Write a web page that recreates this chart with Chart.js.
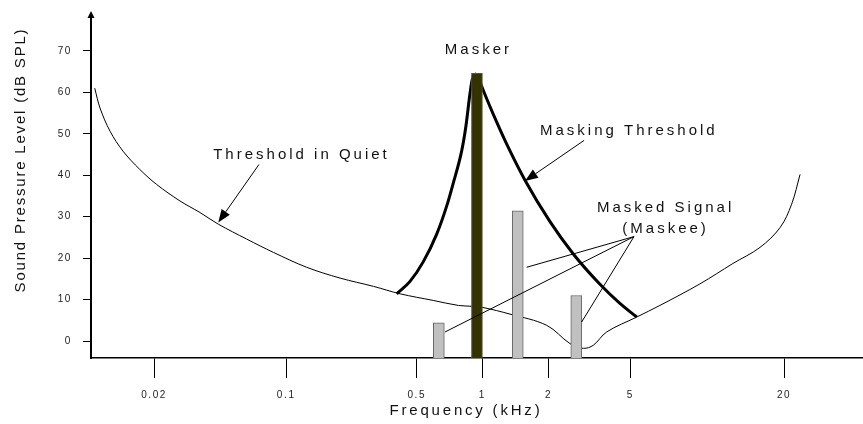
<!DOCTYPE html>
<html><head><meta charset="utf-8">
<script src="https://cdn.jsdelivr.net/npm/chart.js@4/dist/chart.umd.min.js"></script>
<style>html,body{margin:0;padding:0;background:#fff;}#wrap{width:863px;height:424px;position:relative;}</style>
</head><body><div id="wrap"><canvas id="c"></canvas></div>
<script>
// ---- axis definition (non-uniform frequency axis of the schematic) ----
const TICK_FREQS  = [0.02, 0.1, 0.5, 1, 2, 5, 20];
const TICK_LABELS = ['0.02', '0.1', '0.5', '1', '2', '5', '20'];
const AXIS_UNITS  = [64.1, 196.2, 326.8, 392.4, 458.5, 540.3, 694.1];
const Y_TICKS     = [0, 10, 20, 30, 40, 50, 60, 70];

// ---- series (frequency in kHz, level in dB SPL) ----
const quietFreq = [0.0097, 0.01035, 0.0117, 0.0137, 0.0168, 0.0206, 0.0274, 0.035, 0.0437, 0.0618, 0.0855, 0.1287, 0.194, 0.293, 0.407, 0.595, 0.775, 0.893, 1.006, 1.336, 1.963, 2.544, 2.953, 3.304, 3.838, 5.30, 6.53, 9.37, 12.6, 16.1, 19.3, 21.4, 23.1];
const quietDb   = [61.0, 56.2, 50.6, 45.8, 41.4, 37.8, 33.8, 31.0, 28.2, 24.6, 21.4, 17.8, 15.2, 13.2, 11.4, 9.8, 8.6, 8.4, 8.1, 6.5, 3.8, -0.6, -1.75, -1.0, 2.2, 5.8, 8.6, 13.8, 18.7, 22.6, 27.4, 33.0, 40.2];

const maskLeftFreq  = [0.3905, 0.46, 0.535, 0.617, 0.686, 0.735, 0.803, 0.841, 0.877, 0.900, 0.944];
const maskLeftDb    = [11.4, 14.4, 19.1, 25.8, 32.6, 38.1, 45.8, 52.0, 59.7, 63.3, 64.5];
const maskRightFreq = [0.944, 1.009, 1.162, 1.312, 1.563, 2.034, 2.64, 3.56, 4.45, 5.30];
const maskRightDb   = [64.5, 60.5, 52.8, 46.7, 38.8, 28.8, 21.0, 13.7, 9.1, 5.8];

const maskerFreq = [0.944];
const maskerDb   = [64.6];
const maskeeFreq = [0.631, 1.449, 2.73];
const maskeeDb   = [4.4, 31.4, 11.0];

const X_MIN = 1, X_MAX = 773, Y_MIN = -4.08, Y_MAX = 78.16;

function warp(f) {
  const lf = Math.log10(f);
  const L = TICK_FREQS.map(v => Math.log10(v));
  let i = 0;
  while (i < L.length - 2 && lf > L[i + 1]) i++;
  return AXIS_UNITS[i] + (lf - L[i]) / (L[i + 1] - L[i]) * (AXIS_UNITS[i + 1] - AXIS_UNITS[i]);
}
const pts = (fs, ds) => fs.map((f, i) => ({ x: warp(f), y: ds[i] }));

const FONT = 'Liberation Sans, Arial, sans-serif';

const annot = {
  id: 'annot',
  beforeDraw(chart) { chart.ctx.letterSpacing = '1.6px'; },
  afterDraw(chart) {
    const { ctx, chartArea: ca } = chart;
    const xs = chart.scales.x, ys = chart.scales.y;
    const P = (f, d) => [xs.getPixelForValue(warp(f)), ys.getPixelForValue(d)];
    ctx.save();
    ctx.fillStyle = '#000';
    ctx.strokeStyle = '#000';
    // arrow head on top of y axis
    ctx.beginPath();
    ctx.moveTo(ca.left, ca.top - 6);
    ctx.lineTo(ca.left - 3.5, ca.top + 1);
    ctx.lineTo(ca.left + 3.5, ca.top + 1);
    ctx.closePath(); ctx.fill();

    const text = (s, f, d, align) => {
      const [px, py] = P(f, d);
      ctx.font = '15px ' + FONT;
      ctx.letterSpacing = '3px';
      ctx.textAlign = align; ctx.textBaseline = 'middle';
      ctx.fillStyle = '#111';
      ctx.fillText(s, px + (align === 'center' ? 1.5 : 0), py);
    };
    const line = (a, b) => {
      const [x1, y1] = P(a[0], a[1]), [x2, y2] = P(b[0], b[1]);
      ctx.lineWidth = 1; ctx.beginPath(); ctx.moveTo(x1, y1); ctx.lineTo(x2, y2); ctx.stroke();
    };
    const arrow = (a, b) => {
      const [x1, y1] = P(a[0], a[1]), [x2, y2] = P(b[0], b[1]);
      const ang = Math.atan2(y2 - y1, x2 - x1), len = 13, hw = 5;
      const bx = x2 - len * Math.cos(ang), by = y2 - len * Math.sin(ang);
      ctx.lineWidth = 1; ctx.beginPath(); ctx.moveTo(x1, y1); ctx.lineTo(bx, by); ctx.stroke();
      ctx.fillStyle = '#000';
      ctx.beginPath(); ctx.moveTo(x2, y2);
      ctx.lineTo(bx + hw * Math.sin(ang), by - hw * Math.cos(ang));
      ctx.lineTo(bx - hw * Math.sin(ang), by + hw * Math.cos(ang));
      ctx.closePath(); ctx.fill();
    };

    text('Masker', maskerFreq[0], 70.2, 'center');
    text('Masking Threshold', 1.829, 50.6, 'left');
    arrow([2.98, 48.4], [1.563, 38.6]);
    text('Threshold in Quiet', 0.1185, 45.0, 'center');
    arrow([0.0718, 42.6], [0.0437, 28.6]);
    text('Masked Signal', 6.78, 32.2, 'center');
    text('(Maskee)', 6.78, 27.0, 'center');
    line([5.17, 25.2], [1.591, 17.8]);
    line([5.17, 25.2], [0.674, 2.2]);
    line([5.17, 25.2], [2.90, 4.6]);

    // axis titles
    ctx.fillStyle = '#111';
    ctx.font = '15px ' + FONT;
    ctx.letterSpacing = '1.8px';
    ctx.textAlign = 'center'; ctx.textBaseline = 'middle';
    ctx.save();
    ctx.translate(21, 160); ctx.rotate(-Math.PI / 2);
    ctx.fillText('Sound Pressure Level (dB SPL)', 0, 0);
    ctx.restore();
    ctx.letterSpacing = '2.8px';
    ctx.fillText('Frequency (kHz)', 466, 411);
    ctx.restore();
  }
};

new Chart(document.getElementById('c'), {
  type: 'bar',
  data: {
    datasets: [
      { type: 'bar', label: 'Masker', data: pts(maskerFreq, maskerDb), backgroundColor: '#333300', borderColor: '#555544', borderWidth: 1, barThickness: 11, grouped: false, base: Y_MIN, order: 0 },
      { type: 'bar', label: 'Masked Signal (Maskee)', data: pts(maskeeFreq, maskeeDb), backgroundColor: '#c0c0c0', borderColor: '#666666', borderWidth: 1, barThickness: 11, grouped: false, base: Y_MIN, order: 0 },
      { type: 'line', label: 'Threshold in Quiet', data: pts(quietFreq, quietDb), borderColor: '#000', borderWidth: 1, pointRadius: 0, fill: false, tension: 0.35, order: 1 },
      { type: 'line', label: 'Masking Threshold L', data: pts(maskLeftFreq, maskLeftDb), borderColor: '#000', borderWidth: 3, pointRadius: 0, fill: false, cubicInterpolationMode: 'monotone', order: 1 },
      { type: 'line', label: 'Masking Threshold R', data: pts(maskRightFreq, maskRightDb), borderColor: '#000', borderWidth: 3, pointRadius: 0, fill: false, cubicInterpolationMode: 'monotone', order: 1 }
    ]
  },
  options: {
    responsive: true, maintainAspectRatio: false, animation: false, devicePixelRatio: 1,
    layout: { padding: { top: 15, left: 0, right: 0, bottom: 0 } },
    plugins: { legend: { display: false }, tooltip: { enabled: false } },
    scales: {
      x: {
        type: 'linear', min: X_MIN, max: X_MAX, offset: false,
        afterFit(s) { s.height = 66; },
        afterBuildTicks(s) { s.ticks = TICK_FREQS.map(f => ({ value: warp(f) })); },
        ticks: { callback: (v, i) => TICK_LABELS[i], color: '#222', font: { family: FONT, size: 10 }, padding: 11, maxRotation: 0, autoSkip: false },
        grid: { offset: false, drawOnChartArea: false, drawTicks: true, tickLength: 20, color: '#000', lineWidth: 1 },
        border: { display: true, color: '#000', width: 1.5 }
      },
      y: {
        type: 'linear', min: Y_MIN, max: Y_MAX,
        afterFit(s) { s.width = 91; },
        afterBuildTicks(s) { s.ticks = Y_TICKS.map(v => ({ value: v })); },
        ticks: { color: '#222', font: { family: FONT, size: 10 }, padding: 11 },
        grid: { drawOnChartArea: false, drawTicks: true, tickLength: 8, color: '#000', lineWidth: 1 },
        border: { display: true, color: '#000', width: 2 }
      }
    }
  },
  plugins: [annot]
});
</script></body></html>
